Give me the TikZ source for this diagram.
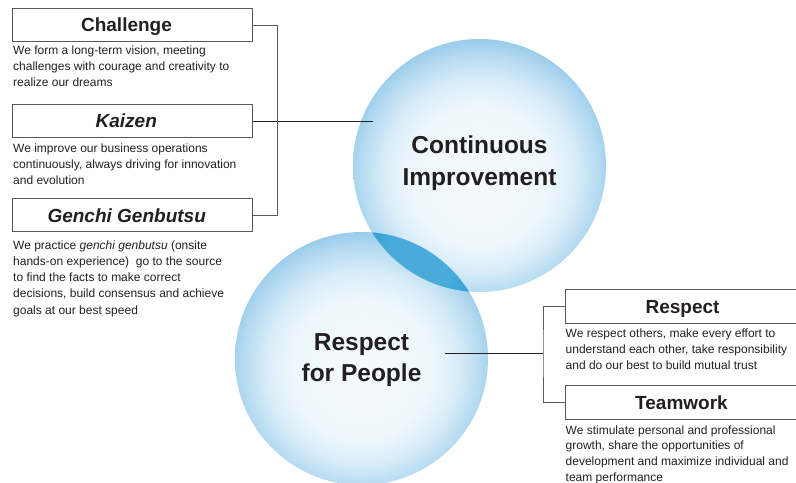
\documentclass[tikz,border=0pt]{standalone}
\usepackage{fontspec}
\setmainfont{Liberation Sans}
\usetikzlibrary{calc}
\definecolor{txt}{RGB}{35,31,32}
\definecolor{boxln}{RGB}{88,88,88}
\definecolor{bc0}{RGB}{245,250,254}
\definecolor{bc1}{RGB}{237,247,252}
\definecolor{bc2}{RGB}{218,237,249}
\definecolor{bc3}{RGB}{182,219,241}
\definecolor{bc4}{RGB}{142,198,232}
\definecolor{bc5}{RGB}{98,177,222}
\definecolor{lensin}{RGB}{74,171,219}
\definecolor{lensout}{RGB}{40,155,210}
\pgfdeclareradialshading{bubble}{\pgfpoint{0bp}{-3bp}}{color(0bp)=(bc0); color(14bp)=(bc1); color(18.8bp)=(bc2); color(23.5bp)=(bc3); color(27.6bp)=(bc4); color(31.4bp)=(bc5); color(50bp)=(bc5)}
\pgfdeclareradialshading{lensshade}{\pgfpoint{0bp}{0bp}}{color(0bp)=(lensin); color(14bp)=(lensin); color(31.4bp)=(lensout); color(50bp)=(lensout)}
\begin{document}
\begin{tikzpicture}[x=1bp,y=-1bp,
  hbox/.style={draw=boxln, line width=0.8bp, minimum height=33.4bp, inner sep=0},
  head/.style={text=txt, font=\fontsize{19bp}{22bp}\selectfont\bfseries, anchor=base, inner sep=0},
  desc/.style={text=txt, font=\fontsize{12bp}{16.2bp}\selectfont, align=left, anchor=base west, inner sep=0},
  bubblenode/.style={circle, minimum size=253bp, inner sep=0, shade, shading=bubble},
  big/.style={text=txt, font=\fontsize{24.5bp}{32bp}\selectfont\bfseries, anchor=base, inner sep=0},
  brk/.style={draw=boxln, line width=0.8bp},
  lnk/.style={draw=txt, line width=0.8bp}]
\useasboundingbox (0,0) rectangle (796,483);
% bubbles
\node[bubblenode] (cA) at (479.5,165.5) {};
\node[bubblenode] (cB) at (361.5,358.5) {};
\begin{scope}
  \clip (cA.center) circle (126.5);
  \clip (cB.center) circle (126.5);
  \shade[shading=lensshade] ($(cA.center)!0.5!(cB.center)$) circle (58);
\end{scope}
\node[big] (ci1) at (479.5,153.3) {Continuous};
\node[big] (ci2) at (479.5,185.7) {Improvement};
\node[big] (rp1) at (361.5,350.7) {Respect};
\node[big] (rp2) at (361.5,381.7) {for People};
% left boxes
\node[hbox, minimum width=239.6bp] (chal) at (132.5,25) {};
\node[hbox, minimum width=239.6bp] (kaiz) at (132.5,121) {};
\node[hbox, minimum width=239.6bp] (genb) at (132.5,215.2) {};
\node[head] (chalt) at (126.5,31.6) {Challenge};
\node[head] (kaizt) at (126.3,128) {\itshape Kaizen};
\node[head] (genbt) at (126.7,222.2) {\itshape Genchi Genbutsu};
\node[desc] (chald) at (13,86.7) {We form a long-term vision, meeting\\challenges with courage and creativity to\\realize our dreams};
\node[desc] (kaizd) at (13,184.7) {We improve our business operations\\continuously, always driving for innovation\\and evolution};
\node[desc] (genbd) at (13,314.1) {We practice \textit{genchi genbutsu} (onsite\\hands-on experience)\ \ go to the source\\to find the facts to make correct\\decisions, build consensus and achieve\\goals at our best speed};
% right boxes
\node[hbox, minimum width=235bp] (resp) at (682.5,306.3) {};
\node[hbox, minimum width=235bp] (team) at (682.5,402.2) {};
\node[head] (respt) at (682.5,313.2) {Respect};
\node[head] (teamt) at (681.5,409.2) {Teamwork};
\node[desc] (respd) at (565.5,369.4) {We respect others, make every effort to\\understand each other, take responsibility\\and do our best to build mutual trust};
\node[desc, font=\fontsize{12bp}{15.8bp}\selectfont] (teamd) at (565.5,481.4) {We stimulate personal and professional\\growth, share the opportunities of\\development and maximize individual and\\team performance};
% connectors
\coordinate (kend) at (373,121);
\draw[lnk] (kaiz.east) -- (kend);
\draw[brk] (chal.east) -- ++(24.7,0) |- (genb.east);
\coordinate (rend) at (445,353);
\coordinate (rj) at (543,353);
\draw[lnk] (rend) -- (rj);
\draw[brk] (resp.west) -| (rj) |- (team.west);
\end{tikzpicture}
\end{document}
